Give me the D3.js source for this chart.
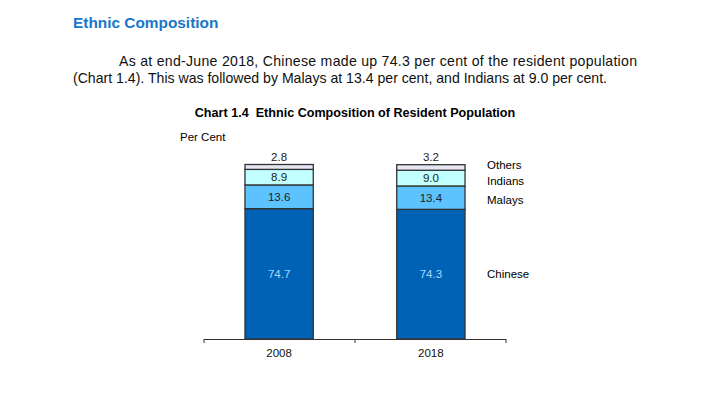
<!DOCTYPE html>
<html>
<head>
<meta charset="utf-8">
<script src="https://cdn.jsdelivr.net/npm/d3@7"></script>
<style>
  body { margin: 0; background: #fff; }
  svg { font-family: "Liberation Sans", Arial, sans-serif; }
</style>
</head>
<body>
<svg id="chart" width="720" height="395"></svg>
<script>
// data
const years = ['2008', '2018'];
const groups = ['Chinese', 'Malays', 'Indians', 'Others'];
const chinese = [74.7, 74.3];
const malays = [13.6, 13.4];
const indians = [8.9, 9.0];
const others = [2.8, 3.2];
const groupColors = ['#0062b4', '#5cc3ff', '#c2ffff', '#e4e6f2'];
const labelColors = ['#a9d6ff', '#222', '#222', '#222'];

const seriesValues = [chinese, malays, indians, others];
const rows = years.map((y, i) => {
  let r = { year: y };
  groups.forEach((g, j) => { r[g] = seriesValues[j][i]; });
  return r;
});

const svg = d3.select('#chart');

// heading + paragraph
svg.append('text')
  .attr('x', 73).attr('y', 28)
  .attr('font-size', 15.4).attr('font-weight', 'bold')
  .attr('fill', '#1777cc')
  .text('Ethnic Composition');

svg.append('text')
  .attr('x', 119).attr('y', 66)
  .attr('font-size', 14.1).attr('fill', '#111')
  .attr('textLength', 518).attr('lengthAdjust', 'spacing')
  .text('As at end-June 2018, Chinese made up 74.3 per cent of the resident population');
svg.append('text')
  .attr('x', 73).attr('y', 83)
  .attr('font-size', 14.1).attr('fill', '#111')
  .text('(Chart 1.4). This was followed by Malays at 13.4 per cent, and Indians at 9.0 per cent.');

// chart title
svg.append('text')
  .attr('x', 355).attr('y', 117)
  .attr('text-anchor', 'middle')
  .attr('font-size', 12.6).attr('font-weight', 'bold')
  .style('white-space', 'pre')
  .text('Chart 1.4  Ethnic Composition of Resident Population');

svg.append('text')
  .attr('x', 180).attr('y', 141)
  .attr('font-size', 11.5)
  .text('Per Cent');

// scales
const x = d3.scaleBand().domain(years).range([204, 506]).paddingInner(0.55).paddingOuter(0.27);
const y = d3.scaleLinear().domain([0, 100]).range([339, 164.5]);

const stack = d3.stack().keys(groups)(rows);

const layer = svg.append('g').selectAll('g')
  .data(stack)
  .join('g')
  .attr('fill', (d, i) => groupColors[i]);

layer.selectAll('rect')
  .data(d => d)
  .join('rect')
  .attr('x', d => x(d.data.year))
  .attr('width', x.bandwidth())
  .attr('y', d => y(d[1]))
  .attr('height', d => y(d[0]) - y(d[1]))
  .attr('stroke', '#333')
  .attr('stroke-width', 1.3);

// value labels
stack.forEach((s, i) => {
  s.forEach(d => {
    const g = groups[i];
    let ty;
    if (g === 'Others') ty = y(d[1]) - 4;
    else ty = (y(d[0]) + y(d[1])) / 2 + 4;
    svg.append('text')
      .attr('x', x(d.data.year) + x.bandwidth() / 2)
      .attr('y', ty)
      .attr('text-anchor', 'middle')
      .attr('font-size', 11.5)
      .attr('fill', labelColors[i])
      .text(d.data[g].toFixed(1));
  });
});

// legend labels beside the 2018 bar
const last = stack.map(s => s[s.length - 1]);
const legendY = {
  Chinese: (y(last[0][0]) + y(last[0][1])) / 2 + 4,
  Malays: (y(last[1][0]) + y(last[1][1])) / 2 + 6,
  Indians: (y(last[2][0]) + y(last[2][1])) / 2 + 7,
  Others: y(last[3][1]) + 4.5
};
groups.forEach(g => {
  svg.append('text')
    .attr('x', 487).attr('y', legendY[g])
    .attr('font-size', 11.5)
    .text(g);
});

// x axis
const axis = d3.axisBottom(x).tickSize(0).tickPadding(10);
const ax = svg.append('g').attr('transform', 'translate(0,339)').call(axis);
ax.select('.domain').remove();
ax.selectAll('text').attr('font-size', 11.5).attr('fill', '#111')
  .attr('font-family', '"Liberation Sans", Arial, sans-serif');
svg.append('line').attr('x1', 204).attr('x2', 506).attr('y1', 339.5).attr('y2', 339.5)
  .attr('stroke', '#333').attr('stroke-width', 1);
const tickPos = [204, (x(years[0]) + x.bandwidth() + x(years[1])) / 2, 506];
svg.selectAll('.sep').data(tickPos).join('line')
  .attr('class', 'sep')
  .attr('x1', d => d).attr('x2', d => d)
  .attr('y1', 339).attr('y2', 343)
  .attr('stroke', '#333');
</script>
</body>
</html>
